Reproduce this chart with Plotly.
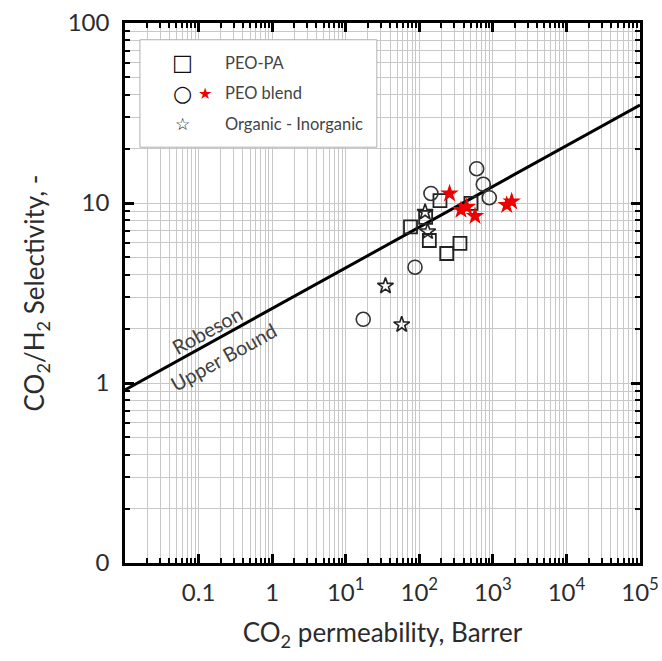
import plotly.graph_objects as go

# ---- data ----
peo_pa_x = [76, 122, 137, 191, 236, 357, 505]
peo_pa_y = [7.36, 8.33, 6.19, 10.3, 5.24, 5.96, 9.94]

peo_blend_circ_x = [17.3, 87.5, 144, 603, 741, 895]
peo_blend_circ_y = [2.26, 4.4, 11.3, 15.5, 12.7, 10.7]

peo_blend_star_x = [258, 369, 441, 572, 1543, 1803]
peo_blend_star_y = [11.3, 9.15, 9.5, 8.47, 9.75, 10.2]

org_inorg_x = [34.7, 57.7, 130, 120]
org_inorg_y = [3.46, 2.11, 6.93, 8.9]

bound_x = [0.01, 1e5]
bound_y = [0.915, 35]

x_tickvals = [0.1, 1, 10, 100, 1000, 1e4, 1e5]
x_ticktext = ["0.1", "1", "10<sup>1</sup>", "10<sup>2</sup>", "10<sup>3</sup>", "10<sup>4</sup>", "10<sup>5</sup>"]
y_tickvals = [0.1, 1, 10, 100]
y_ticktext = ["0", "1", "10", "100"]

legend_labels = ["PEO-PA", "PEO blend", "Organic - Inorganic"]

FONT = "Lato, 'Open Sans', sans-serif"
TXT = "#2b2b2b"

x_minor = [m * 10 ** e for e in range(-2, 5) for m in range(2, 10)]
y_minor = [m * 10 ** e for e in range(-1, 2) for m in range(2, 10)]

fig = go.Figure()

fig.add_trace(go.Scatter(x=bound_x, y=bound_y, mode="lines",
                         line=dict(color="black", width=3), showlegend=False))
fig.add_trace(go.Scatter(x=peo_pa_x, y=peo_pa_y, mode="markers",
                         marker=dict(symbol="square-open", size=13, color="#222222",
                                     line=dict(width=1.8, color="#222222")),
                         showlegend=False))
fig.add_trace(go.Scatter(x=peo_blend_circ_x, y=peo_blend_circ_y, mode="markers",
                         marker=dict(symbol="circle-open", size=14, color="#333333",
                                     line=dict(width=1.6, color="#333333")),
                         showlegend=False))
fig.add_trace(go.Scatter(x=peo_blend_star_x, y=peo_blend_star_y, mode="markers",
                         marker=dict(symbol="star", size=14, color="#ee0000",
                                     line=dict(width=0, color="#ee0000")),
                         showlegend=False))
fig.add_trace(go.Scatter(x=org_inorg_x, y=org_inorg_y, mode="markers",
                         marker=dict(symbol="star-open", size=12, color="#222222",
                                     line=dict(width=1.6, color="#222222")),
                         showlegend=False))

axis_common = dict(
    type="log", showline=True, linecolor="black", linewidth=2.5, mirror="ticks",
    ticks="inside", ticklen=9, tickwidth=2.5, tickcolor="black",
    showgrid=True, gridcolor="#c8c8c8", gridwidth=1, zeroline=False,
    tickfont=dict(family=FONT, size=24, color=TXT), automargin=False,
)

fig.update_xaxes(
    **axis_common, range=[-2, 5], tickmode="array", tickvals=x_tickvals, ticktext=x_ticktext,
    ticklabelstandoff=6,
    minor=dict(tickmode="array", tickvals=x_minor, ticks="inside", ticklen=5, tickwidth=1.5,
               tickcolor="black", showgrid=True, gridcolor="#c8c8c8", gridwidth=1),
    title=dict(text="CO<sub>2</sub> permeability, Barrer",
               font=dict(family=FONT, size=26, color=TXT), standoff=20),
)
fig.update_yaxes(
    **axis_common, range=[-1, 2], tickmode="array", tickvals=y_tickvals, ticktext=y_ticktext,
    ticklabelstandoff=8,
    minor=dict(tickmode="array", tickvals=y_minor, ticks="inside", ticklen=5, tickwidth=1.5,
               tickcolor="black", showgrid=True, gridcolor="#c8c8c8", gridwidth=1),
    title=dict(text="CO<sub>2</sub>/H<sub>2</sub> Selectivity, -",
               font=dict(family=FONT, size=26, color=TXT), standoff=16),
)

# Robeson label (two lines either side of the bound line)
fig.add_annotation(x=-0.885, y=0.294, xref="x", yref="y", text="Robeson",
                   showarrow=False, textangle=-29,
                   font=dict(family=FONT, size=20, color="#404040"))
fig.add_annotation(x=-0.668, y=0.144, xref="x", yref="y", text="Upper Bound",
                   showarrow=False, textangle=-29,
                   font=dict(family=FONT, size=20, color="#404040"))

# manual legend box
fig.add_shape(type="rect", xref="paper", yref="paper", x0=0.029, x1=0.489, y0=0.770, y1=0.969,
              line=dict(color="#b0b0b0", width=1), fillcolor="white", layer="above")
leg_y = [0.926, 0.870, 0.813]
leg_sym = ["<b>\u25a1</b>", "\u25cb", "<b>\u2606</b>"]
leg_sz = [22, 22, 17]
for yy, sym, sz in zip(leg_y, leg_sym, leg_sz):
    fig.add_annotation(x=0.111, y=yy, xref="paper", yref="paper", text=sym, showarrow=False,
                       xanchor="center", yanchor="middle",
                       font=dict(family="DejaVu Sans", size=sz, color="#111111"))
fig.add_annotation(x=0.155, y=leg_y[1], xref="paper", yref="paper", text="\u2605",
                   showarrow=False, xanchor="center", yanchor="middle",
                   font=dict(family="DejaVu Sans", size=16, color="#ee0000"))
for yy, lab in zip(leg_y, legend_labels):
    fig.add_annotation(x=0.190, y=yy, xref="paper", yref="paper", text=lab, showarrow=False,
                       xanchor="left", yanchor="middle",
                       font=dict(family=FONT, size=16.5, color="#444444"))

fig.update_layout(
    width=662, height=661,
    margin=dict(l=125, r=22, t=23, b=98),
    paper_bgcolor="white", plot_bgcolor="white",
    showlegend=False,
)

fig.write_html("out.html", config={"displayModeBar": False},
               post_script="document.body.style.margin='0px';")
